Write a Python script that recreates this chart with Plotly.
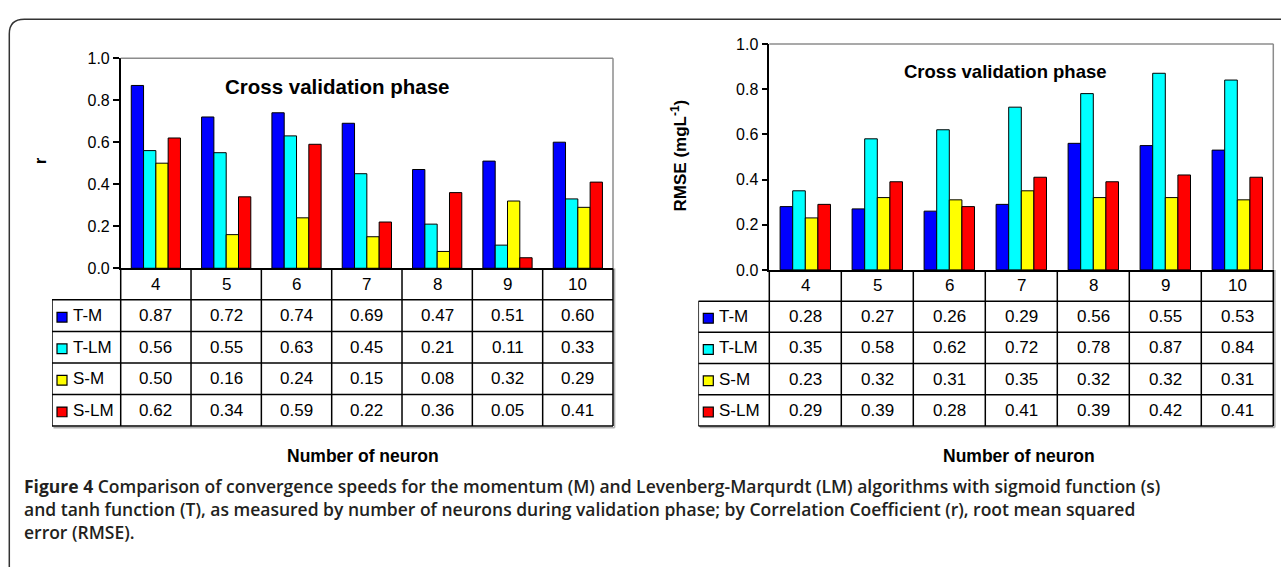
import plotly.graph_objects as go

# ---- data -------------------------------------------------------------
neurons = ["4", "5", "6", "7", "8", "9", "10"]
series_names = ["T-M", "T-LM", "S-M", "S-LM"]
series_colors = ["#0000FF", "#00FFFF", "#FFFF00", "#FF0000"]

r_TM = [0.87, 0.72, 0.74, 0.69, 0.47, 0.51, 0.60]
r_TLM = [0.56, 0.55, 0.63, 0.45, 0.21, 0.11, 0.33]
r_SM = [0.50, 0.16, 0.24, 0.15, 0.08, 0.32, 0.29]
r_SLM = [0.62, 0.34, 0.59, 0.22, 0.36, 0.05, 0.41]

rmse_TM = [0.28, 0.27, 0.26, 0.29, 0.56, 0.55, 0.53]
rmse_TLM = [0.35, 0.58, 0.62, 0.72, 0.78, 0.87, 0.84]
rmse_SM = [0.23, 0.32, 0.31, 0.35, 0.32, 0.32, 0.31]
rmse_SLM = [0.29, 0.39, 0.28, 0.41, 0.39, 0.42, 0.41]

r_series = [r_TM, r_TLM, r_SM, r_SLM]
rmse_series = [rmse_TM, rmse_TLM, rmse_SM, rmse_SLM]

panel_title = "Cross validation phase"
x_title = "Number of neuron"
caption_lines = [
    "<b>Figure 4</b> Comparison of convergence speeds for the momentum (M) and "
    "Levenberg-Marqurdt (LM) algorithms with sigmoid function (s)",
    "and tanh function (T), as measured by number of neurons during validation phase; "
    "by Correlation Coefficient (r), root mean squared",
    "error (RMSE).",
]

# ---- page geometry (pixels) --------------------------------------------
W, H = 1281, 567
FONT = "Liberation Sans, Arial, sans-serif"


def px_x(v):
    return v / W


def px_y(v):
    return 1 - v / H


panels = [
    dict(series=r_series, ytitle="<b>r</b>", ytitle_x=40, ytitle_y=158,
         left=120.7, right=613.0, top=51.7, bottom=268.3, leg_left=52.0, tbl_bottom=431.0,
         title_fx=0.439, title_y=81, title_size=20.5, xtitle_x=363),
    dict(series=rmse_series, ytitle="<b>RMSE (mgL<sup>-1</sup>)</b>", ytitle_x=679, ytitle_y=152,
         left=769.3, right=1273.3, top=37.0, bottom=270.0, leg_left=698.3, tbl_bottom=431.0,
         title_fx=0.4687, title_y=65, title_size=18.5, xtitle_x=1019),
]

fig = go.Figure()
shapes = []
annotations = []
layout_axes = {}


def note(**kw):
    kw.setdefault("showarrow", False)
    kw.setdefault("xanchor", "center")
    kw.setdefault("yanchor", "middle")
    annotations.append(kw)


for p_i, p in enumerate(panels):
    n_bar = 2 * p_i + 1
    n_tbl = 2 * p_i + 2
    xa, ya = f"x{'' if n_bar == 1 else n_bar}", f"y{'' if n_bar == 1 else n_bar}"
    xt, yt = f"x{n_tbl}", f"y{n_tbl}"

    # bars
    for name, color, vals in zip(series_names, series_colors, p["series"]):
        fig.add_trace(go.Bar(x=neurons, y=vals, name=name, marker_color=color,
                             marker_line=dict(color="black", width=1),
                             xaxis=xa, yaxis=ya, showlegend=False))

    layout_axes["xaxis" + ("" if n_bar == 1 else str(n_bar))] = dict(
        domain=[px_x(p["left"]), px_x(p["right"])], type="category",
        range=[-0.5, 6.5], showticklabels=False, ticks="", showline=True,
        linecolor="black", linewidth=2, anchor=ya, fixedrange=True)
    layout_axes["yaxis" + ("" if n_bar == 1 else str(n_bar))] = dict(
        domain=[px_y(p["bottom"]), px_y(p["top"])], range=[0, 1], dtick=0.2,
        tickformat=".1f", ticks="outside", ticklen=6, tickcolor="black", tickwidth=1.5,
        showline=True, linecolor="black", linewidth=1.5, showgrid=False, zeroline=False,
        tickfont=dict(family=FONT, size=16, color="black"), anchor=xa, fixedrange=True)

    # grey frame on top / right of the plot area
    for x0, y0, x1, y1 in [(0, 1, 1, 1), (1, 0, 1, 1)]:
        shapes.append(dict(type="line", xref=f"{xa} domain", yref=f"{ya} domain",
                           x0=x0, y0=y0, x1=x1, y1=y1,
                           line=dict(color="#8c8c8c", width=1.5)))

    # table axes: columns share the category spacing of the bar axis
    col_w = (p["right"] - p["left"]) / len(neurons)
    leg_x = -0.5 - (p["left"] - p["leg_left"]) / col_w
    row_h = (p["tbl_bottom"] - p["bottom"]) / 5
    layout_axes[f"xaxis{n_tbl}"] = dict(
        domain=[px_x(p["leg_left"]), px_x(p["right"] + 3)],
        range=[leg_x, 6.5 + 3 / col_w], visible=False, anchor=yt, fixedrange=True)
    layout_axes[f"yaxis{n_tbl}"] = dict(
        domain=[px_y(p["tbl_bottom"] + 3), px_y(p["bottom"])],
        range=[4 + 3 / row_h, -1], visible=False, anchor=xt, fixedrange=True)

    # soft shadow along the right and bottom edges of the table
    shade = dict(color="#b0b0b0", width=1.5)
    shapes.append(dict(type="line", xref=xt, yref=yt, x0=6.5 + 1.6 / col_w, x1=6.5 + 1.6 / col_w,
                       y0=-1, y1=4 + 1.6 / row_h, line=shade))
    shapes.append(dict(type="line", xref=xt, yref=yt, x0=leg_x + 1.5 / col_w, x1=6.5 + 1.6 / col_w,
                       y0=4 + 1.6 / row_h, y1=4 + 1.6 / row_h, line=shade))

    grid = dict(color="black", width=1.5)
    # horizontal rules
    shapes.append(dict(type="line", xref=xt, yref=yt, x0=-0.5, x1=6.5, y0=-1, y1=-1, line=grid))
    for r in range(5):
        shapes.append(dict(type="line", xref=xt, yref=yt, x0=leg_x, x1=6.5, y0=r, y1=r, line=grid))
    # vertical rules
    shapes.append(dict(type="line", xref=xt, yref=yt, x0=leg_x, x1=leg_x, y0=0, y1=4, line=grid))
    for k in range(len(neurons) + 1):
        shapes.append(dict(type="line", xref=xt, yref=yt, x0=k - 0.5, x1=k - 0.5,
                           y0=-1, y1=4, line=grid))

    # header row with the neuron counts
    for k, lab in enumerate(neurons):
        note(xref=xt, yref=yt, x=k, y=-0.5, text=lab,
             font=dict(family=FONT, size=17, color="black"))
    # data rows with legend keys
    for r, (name, color, vals) in enumerate(zip(series_names, series_colors, p["series"])):
        for k, v in enumerate(vals):
            note(xref=xt, yref=yt, x=k, y=r + 0.5, text=f"{v:.2f}",
                 font=dict(family=FONT, size=17, color="black"))
        sw0 = leg_x + 5 / col_w
        sw1 = leg_x + 15 / col_w
        hh = 5 / row_h
        shapes.append(dict(type="rect", xref=xt, yref=yt, x0=sw0, x1=sw1,
                           y0=r + 0.55 - hh, y1=r + 0.55 + hh, fillcolor=color,
                           line=dict(color="black", width=1.2)))
        note(xref=xt, yref=yt, x=leg_x + 19 / col_w, y=r + 0.5, xanchor="left",
             text=name, font=dict(family=FONT, size=17, color="black"))

    # titles
    note(xref=f"{xa} domain", yref="paper", x=p["title_fx"], y=px_y(p["title_y"]),
         text=f"<b>{panel_title}</b>",
         font=dict(family=FONT, size=p["title_size"], color="black"))
    note(xref="paper", yref="paper", x=px_x(p["ytitle_x"]), y=px_y(p["ytitle_y"]),
         text=p["ytitle"], textangle=-90,
         font=dict(family=FONT, size=17, color="black"))
    note(xref="paper", yref="paper", x=px_x(p["xtitle_x"]), y=px_y(462),
         text=f"<b>{x_title}</b>", font=dict(family=FONT, size=17.5, color="black"))

# figure caption
note(xref="paper", yref="paper", x=px_x(23), y=px_y(517), xanchor="left",
     align="left", text="<br>".join(caption_lines), borderpad=0,
     font=dict(family="Open Sans, sans-serif", size=17.5, color="#231f20", weight=600))

# rounded frame around the figure (open towards right and bottom)
x0, y0, rad = 9.3, 11.7, 15
frame = (f"M {px_x(x0)},{px_y(H + 10)} L {px_x(x0)},{px_y(y0 + rad)} "
         f"Q {px_x(x0)},{px_y(y0)} {px_x(x0 + rad)},{px_y(y0)} L {px_x(W + 10)},{px_y(y0)}")
shapes.append(dict(type="path", xref="paper", yref="paper", path=frame,
                   line=dict(color="#333333", width=1.5)))

fig.update_layout(
    width=W, height=H, margin=dict(l=0, r=0, t=0, b=0),
    paper_bgcolor="white", plot_bgcolor="white",
    barmode="group", bargap=0.3, bargroupgap=0,
    shapes=shapes, annotations=annotations, **layout_axes,
)

fig.write_html("out.html", config={"displayModeBar": False})
